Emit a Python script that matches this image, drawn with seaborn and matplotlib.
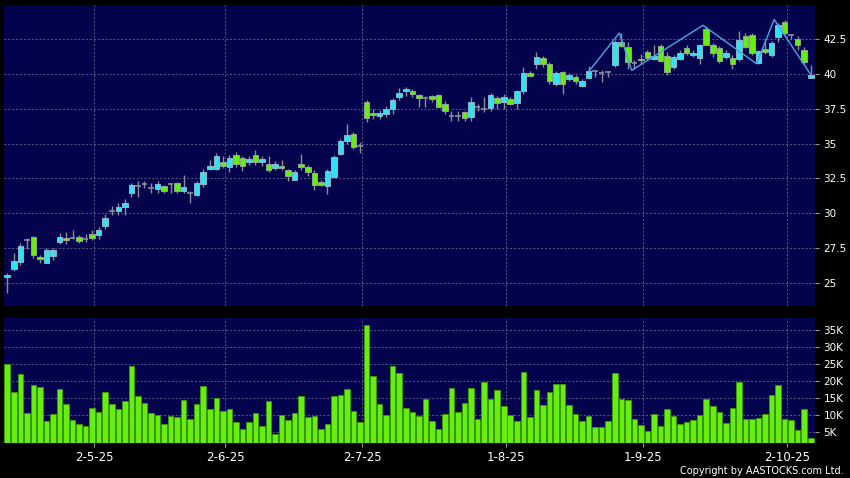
import numpy as np
import pandas as pd
import matplotlib
matplotlib.use("Agg")
import matplotlib.pyplot as plt
import seaborn as sns

# ---------------- data ----------------
opens = [25.38, 26.01, 26.51, 28.07, 28.26, 26.85, 26.44, 26.94, 27.95, 28.24,
         28.19, 28.26, 28.12, 28.47, 28.45, 29.10, 30.17, 30.18, 30.42, 31.42,
         31.95, 32.12, 31.78, 31.71, 31.92, 32.12, 32.14, 31.57, 31.47, 31.33,
         32.07, 33.17, 33.19, 33.70, 33.31, 34.20, 33.98, 33.70, 34.18, 33.70,
         33.53, 33.26, 33.41, 33.07, 32.40, 33.55, 33.34, 32.88, 32.26, 31.95,
         32.60, 34.27, 35.16, 35.71, 34.85, 37.98, 37.17, 37.00, 37.15, 37.50,
         38.37, 38.77, 38.76, 38.49, 38.28, 38.40, 38.49, 37.85, 37.01, 37.01,
         37.27, 36.89, 37.61, 37.51, 37.56, 38.25, 37.99, 38.18, 37.90, 38.76,
         40.08, 40.72, 41.15, 40.72, 39.29, 40.15, 39.64, 39.76, 39.14, 39.74,
         40.20, 40.10, 40.12, 40.62, 42.29, 41.93, 40.81, 41.10, 41.60, 41.10,
         42.03, 41.29, 40.50, 41.10, 41.87, 41.38, 41.14, 43.25, 42.10, 41.87,
         41.19, 41.14, 41.10, 42.75, 42.82, 40.79, 41.79, 41.34, 42.68, 43.73,
         42.82, 42.53, 41.70, 39.69]
highs = [25.72, 27.10, 27.83, 28.21, 28.35, 26.99, 27.47, 27.47, 28.55, 28.64,
         28.79, 28.43, 28.47, 28.79, 28.98, 29.94, 30.51, 30.70, 30.99, 32.19,
         32.28, 32.28, 32.19, 32.28, 32.02, 32.19, 32.24, 32.74, 31.61, 32.33,
         33.19, 33.84, 34.32, 34.13, 34.15, 34.39, 34.08, 34.08, 34.51, 34.08,
         34.13, 33.72, 33.79, 33.17, 33.07, 34.27, 33.48, 33.07, 32.36, 33.19,
         34.15, 35.35, 36.38, 35.80, 35.11, 38.10, 37.50, 37.38, 37.67, 38.29,
         39.01, 39.10, 38.93, 38.57, 38.45, 38.49, 38.57, 38.09, 37.37, 37.37,
         37.37, 38.33, 37.85, 38.33, 38.64, 38.45, 38.57, 38.33, 38.85, 40.53,
         40.20, 41.56, 41.32, 40.84, 40.24, 40.24, 40.08, 39.96, 39.64, 40.60,
         40.29, 40.29, 40.24, 42.41, 42.94, 42.29, 41.03, 41.46, 41.74, 42.05,
         42.17, 41.58, 41.34, 41.70, 42.05, 41.70, 42.17, 43.37, 42.22, 41.98,
         41.70, 41.34, 43.08, 42.94, 42.94, 41.74, 42.53, 42.37, 43.66, 43.85,
         42.89, 42.70, 41.94, 40.65]
lows = [24.28, 25.86, 26.27, 27.40, 26.75, 26.44, 26.39, 26.63, 27.78, 27.78,
        28.12, 27.87, 27.95, 28.07, 28.14, 28.88, 29.86, 29.86, 29.89, 31.18,
        31.18, 31.78, 31.47, 31.42, 31.47, 31.42, 31.47, 31.47, 30.75, 31.23,
        31.87, 33.07, 33.07, 33.26, 32.95, 33.31, 33.02, 33.43, 33.48, 33.41,
        32.95, 33.07, 33.12, 32.33, 32.35, 33.12, 32.69, 31.68, 31.92, 31.35,
        32.53, 34.15, 34.94, 34.63, 34.32, 36.55, 36.74, 36.79, 36.91, 37.15,
        38.10, 38.40, 38.33, 37.61, 37.61, 37.97, 37.61, 37.13, 36.60, 36.60,
        36.65, 36.60, 37.37, 37.25, 37.32, 37.49, 37.49, 37.75, 37.49, 38.57,
        39.76, 40.36, 40.48, 39.29, 39.17, 38.57, 39.52, 39.29, 39.05, 39.64,
        39.76, 39.41, 39.81, 40.50, 41.93, 40.38, 40.38, 40.74, 40.98, 40.98,
        40.86, 39.90, 40.38, 40.98, 41.34, 41.22, 40.74, 42.05, 41.22, 40.79,
        41.10, 40.38, 40.93, 41.89, 41.34, 40.69, 41.46, 41.22, 42.29, 42.77,
        42.53, 41.74, 40.74, 39.69]
closes = [25.55, 26.56, 27.64, 28.07, 26.97, 26.72, 27.35, 27.32, 28.26, 28.10,
          28.19, 27.97, 28.12, 28.19, 28.79, 29.62, 30.17, 30.42, 30.70, 31.99,
          31.95, 32.12, 31.78, 32.07, 31.61, 32.12, 31.57, 31.85, 31.47, 32.14,
          32.95, 33.41, 34.13, 33.38, 33.98, 33.50, 33.38, 33.89, 33.70, 33.86,
          33.07, 33.55, 33.26, 32.66, 32.98, 33.31, 32.98, 32.04, 31.99, 33.05,
          34.06, 35.21, 35.64, 34.75, 34.85, 36.86, 37.02, 37.19, 37.50, 38.15,
          38.65, 38.94, 38.57, 38.28, 38.28, 38.21, 37.66, 37.37, 37.01, 37.01,
          36.84, 37.99, 37.61, 37.51, 38.49, 37.90, 38.33, 37.85, 38.76, 40.08,
          39.86, 41.20, 40.72, 39.52, 40.10, 39.29, 39.93, 39.52, 39.48, 40.22,
          40.20, 40.10, 40.12, 42.29, 42.00, 40.86, 40.81, 40.98, 41.14, 41.26,
          40.93, 40.14, 41.22, 41.53, 41.53, 41.53, 42.05, 42.10, 41.50, 40.93,
          41.50, 40.74, 42.41, 41.93, 41.53, 41.65, 41.60, 42.25, 43.49, 42.94,
          42.82, 42.10, 40.86, 39.90]
volumes_k = [25.0, 16.8, 22.2, 10.6, 19.0, 18.4, 8.4, 10.5, 17.8, 13.4,
             8.7, 7.4, 7.0, 12.1, 10.9, 16.7, 13.3, 11.8, 14.3, 24.3,
             15.6, 13.5, 10.6, 10.1, 7.5, 9.9, 9.5, 14.5, 9.0, 13.3,
             18.6, 12.0, 15.2, 11.4, 11.9, 8.0, 6.1, 8.0, 10.8, 6.9,
             14.2, 4.4, 10.2, 8.7, 10.7, 15.8, 9.5, 9.7, 6.1, 7.4,
             15.8, 16.0, 17.8, 11.3, 8.0, 36.5, 21.5, 13.4, 10.2, 24.3,
             22.5, 12.1, 11.0, 9.8, 14.9, 8.3, 6.0, 10.4, 17.9, 10.9,
             13.6, 18.1, 8.9, 19.8, 14.8, 17.3, 12.8, 10.1, 8.3, 22.8,
             9.4, 17.4, 13.1, 16.9, 19.2, 19.1, 13.0, 10.5, 8.4, 9.8,
             6.7, 6.5, 8.3, 22.3, 14.9, 14.5, 8.9, 7.1, 5.5, 10.4,
             6.8, 11.9, 9.9, 7.4, 8.0, 8.5, 10.2, 14.7, 12.7, 10.9,
             7.8, 12.2, 19.8, 9.0, 9.0, 9.2, 10.3, 16.0, 18.8, 8.9,
             8.7, 5.8, 11.9, 3.4]
tick_labels = ["2-5-25", "2-6-25", "2-7-25", "1-8-25", "1-9-25", "2-10-25"]
tick_idx = [13, 33, 54, 76, 97, 119]
price_ticks = [25, 27.5, 30, 32.5, 35, 37.5, 40, 42.5]
price_tick_labels = ["25", "27.5", "30", "32.5", "35", "37.5", "40", "42.5"]
vol_ticks_k = [5, 10, 15, 20, 25, 30, 35]
vol_tick_labels = ["5K", "10K", "15K", "20K", "25K", "30K", "35K"]
zz_idx = [89, 93.7, 95.6, 106.5, 114.7, 117.4, 122.9]
zz_val = [40.17, 42.95, 40.26, 43.5, 40.74, 43.92, 40.02]

# ---------------- styling ----------------
sns.set_theme(style="dark")
plt.rcParams['font.family'] = ['DejaVu Sans']

BG = "black"
PANEL = "#03034d"
GRID = "#5a5a8e"
UP = "#2fe3f2"
DOWN = "#66ee11"
WICK = "#8c8c9c"
DASH = (0, (2, 2))

n = len(closes)
idx = np.arange(n)
df = pd.DataFrame({"i": idx, "open": opens, "high": highs, "low": lows,
                   "close": closes, "vol": np.array(volumes_k) * 1000})

W, H = 850, 478
fig = plt.figure(figsize=(W / 100, H / 100), dpi=100, facecolor=BG)
ax = fig.add_axes([4 / W, 1 - 306 / H, 811 / W, 301 / H])
axv = fig.add_axes([4 / W, 1 - 443 / H, 811 / W, 125 / H])

xlim = (-0.5, n - 1 + 0.65)
grid_x = [t + 0.35 for t in tick_idx]

for a in (ax, axv):
    a.set_facecolor(PANEL)
    for s in a.spines.values():
        s.set_visible(False)

# ---------------- volume (seaborn) ----------------
sns.barplot(data=df, x="i", y="vol", color=DOWN, saturation=1, width=0.85,
            edgecolor="#3a9a00", linewidth=0.6, ax=axv, zorder=3)
axv.set_xlim(*xlim)
axv.set_ylim(1900, 38500)
axv.set_xlabel("")
axv.set_ylabel("")

# ---------------- candles ----------------
o = df["open"].values
c = df["close"].values
ax.vlines(idx, df["low"], df["high"], color=WICK, linewidth=1.0, zorder=2)
is_doji = np.isclose(o, c)
up = (c > o) & ~is_doji
dn = (c < o) & ~is_doji
bw = 0.85
ax.bar(idx[up], (c - o)[up], bottom=o[up], width=bw, color=UP,
       edgecolor="#8fb4c8", linewidth=0.7, zorder=3)
ax.bar(idx[dn], (o - c)[dn], bottom=c[dn], width=bw, color=DOWN,
       edgecolor="#8fa88a", linewidth=0.7, zorder=3)
ax.hlines(c[is_doji], idx[is_doji] - bw / 2, idx[is_doji] + bw / 2,
          color=WICK, linewidth=1.2, zorder=3)

# zigzag overlay
sns.lineplot(x=zz_idx, y=zz_val, color="#46a6e6", linewidth=1.0, ax=ax,
             zorder=4, sort=False)

ax.set_xlim(*xlim)
ax.set_ylim(23.32, 44.96)

# ---------------- axes / ticks / grid ----------------
for a in (ax, axv):
    for gx in grid_x:
        a.axvline(gx, color=GRID, linestyle=DASH, linewidth=0.7, zorder=1)
    a.yaxis.tick_right()
    a.tick_params(axis="y", which="both", right=True, left=False, length=3,
                  width=0.8, color="#9a9a9a", labelcolor="white",
                  labelsize=7.5, pad=3)

ax.set_yticks(price_ticks)
ax.set_yticklabels(price_tick_labels)
for t in price_ticks:
    ax.axhline(t, color=GRID, linestyle=DASH, linewidth=0.7, zorder=1)
ax.set_xticks([])

vt = [v * 1000 for v in vol_ticks_k]
axv.set_yticks(vt)
axv.set_yticklabels(vol_tick_labels)
for t in vt:
    axv.axhline(t, color=GRID, linestyle=DASH, linewidth=0.7, zorder=1)
axv.set_xticks(grid_x)
axv.set_xticklabels(tick_labels)
axv.tick_params(axis="x", bottom=True, length=3, width=0.8, color="#9a9a9a",
                labelcolor="white", labelsize=8.5, pad=3)
ax.grid(False)
axv.grid(False)

fig.text(844 / W, 1 - 476 / H, "Copyright by AASTOCKS.com Ltd.", ha="right",
         va="bottom", color="white", fontsize=7.0)

fig.savefig("out.png", dpi=100, facecolor=BG)
